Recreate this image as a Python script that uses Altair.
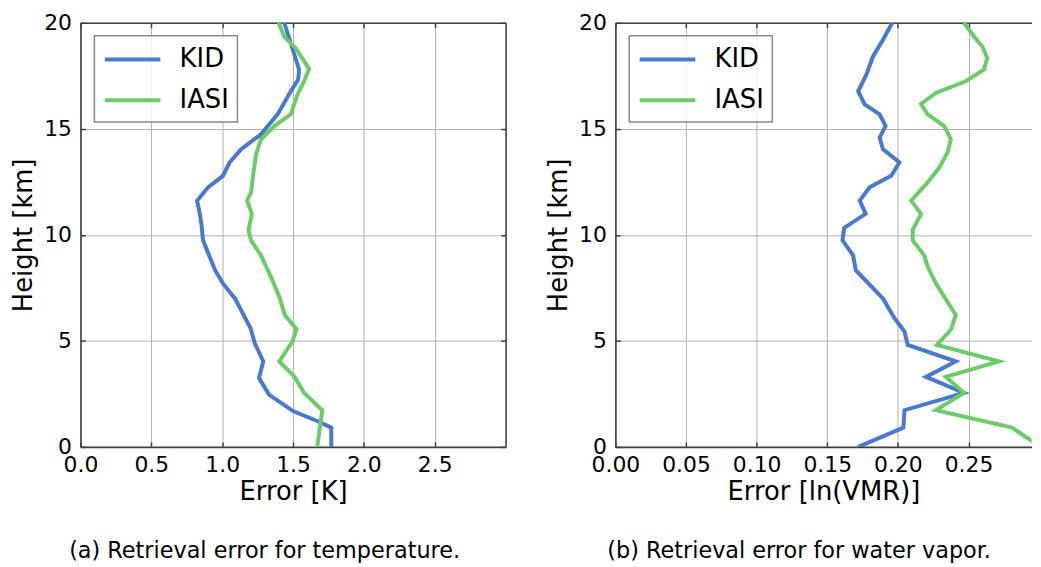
import altair as alt
import pandas as pd

# ---------------- data ----------------
# (a) temperature retrieval error [K]
temp_kid_h = [0, 0.91, 1.22, 1.69, 2.47, 3.25, 4.03, 4.89, 5.60, 7.00, 7.71, 8.33,
              9.74, 10.5, 11.0, 11.61, 12.24, 12.78, 13.41, 14.04, 14.74, 15.68,
              16.77, 17.32, 17.79, 20]
temp_kid_err = [1.77, 1.77, 1.67, 1.50, 1.33, 1.26, 1.29, 1.23, 1.20, 1.09, 1.005, 0.95,
                0.865, 0.854, 0.842, 0.823, 0.90, 1.005, 1.052, 1.134, 1.274, 1.391,
                1.484, 1.536, 1.543, 1.438]
temp_iasi_h = [0, 1.73, 2.55, 3.33, 4.03, 4.97, 5.55, 6.22, 7.08, 8.02, 9.03, 9.74,
               10.21, 10.99, 11.61, 12.0, 12.70, 13.80, 14.5, 15.13, 15.68, 16.61,
               17.24, 17.83, 18.8, 19.35, 20]
temp_iasi_err = [1.671, 1.706, 1.578, 1.508, 1.403, 1.496, 1.524, 1.442, 1.403, 1.344,
                 1.274, 1.204, 1.186, 1.209, 1.176, 1.204, 1.216, 1.239, 1.274, 1.368,
                 1.484, 1.531, 1.578, 1.613, 1.519, 1.438, 1.398]

# (b) water vapor retrieval error [ln(VMR)]
wv_kid_h = [0, 0.91, 1.73, 2.55, 3.30, 4.03, 4.81, 5.44, 6.07, 7.00, 8.33, 9.03, 9.74,
            10.33, 10.99, 11.61, 12.24, 12.78, 13.41, 14.04, 14.58, 15.13, 15.68, 16.15,
            16.77, 17.55, 18.41, 19.19, 20]
wv_kid_err = [0.172, 0.2039, 0.2047, 0.2468, 0.2199, 0.2410, 0.2070, 0.2047, 0.1976,
              0.1894, 0.1702, 0.1683, 0.1608, 0.1620, 0.1772, 0.1730, 0.1800, 0.1953,
              0.2011, 0.1894, 0.1871, 0.1913, 0.1871, 0.1765, 0.1719, 0.1777, 0.1824,
              0.1894, 0.1960]
wv_iasi_h = [0, 0.91, 1.73, 2.55, 3.30, 4.03, 4.81, 5.52, 6.22, 7.71, 8.49, 9.03, 9.74,
             10.24, 10.99, 11.61, 12.47, 13.17, 13.88, 14.50, 15.13, 15.68, 16.17, 16.69,
             17.24, 17.79, 18.33, 18.88, 19.35, 20]
wv_iasi_err = [0.301, 0.2809, 0.2269, 0.2468, 0.2340, 0.2715, 0.2276, 0.2375, 0.2410,
               0.2269, 0.2211, 0.2187, 0.2105, 0.2105, 0.2164, 0.2094, 0.2211, 0.2293,
               0.2352, 0.2375, 0.2328, 0.2211, 0.2164, 0.2269, 0.2480, 0.2609, 0.2633,
               0.2598, 0.2539, 0.2468]

series_names = ["KID", "IASI"]
series_colors = ["#4878CF", "#6ACC65"]

temp_xticks = [0.0, 0.5, 1.0, 1.5, 2.0, 2.5]
wv_xticks = [0.0, 0.05, 0.10, 0.15, 0.20, 0.25]
h_ticks = [0, 5, 10, 15, 20]

FONT = "DejaVu Sans"
FRAME = "#404040"
PLOT_H = 427


def make_df(kid_x, kid_h, iasi_x, iasi_h):
    rows = []
    for name, xs, hs in (("KID", kid_x, kid_h), ("IASI", iasi_x, iasi_h)):
        for i, (x, h) in enumerate(zip(xs, hs)):
            rows.append({"series": name, "err": x, "h": h, "idx": i})
    return pd.DataFrame(rows)


def inner_axis(orient, offset, values, domain):
    # frame line and ticks pointing into the plot area (matplotlib "in" ticks)
    return alt.Axis(orient=orient, offset=offset, values=values, labels=False,
                    ticks=True, tickSize=5, tickWidth=1.5, tickColor=FRAME,
                    grid=False, title=None, domain=domain)


def panel(df, xmax, xticks, xfmt, xtitle, caption, width, right_frame):
    xscale = alt.Scale(domain=[0, xmax], nice=False, zero=False)
    yscale = alt.Scale(domain=[0, 20], nice=False, zero=False)
    lines = alt.Chart(df).mark_line(strokeWidth=4, clip=True).encode(
        x=alt.X("err:Q", scale=xscale,
                axis=alt.Axis(values=xticks, format=xfmt, title=xtitle)),
        y=alt.Y("h:Q", scale=yscale,
                axis=alt.Axis(values=h_ticks, format="d", title="Height [km]")),
        color=alt.Color(
            "series:N",
            scale=alt.Scale(domain=series_names, range=series_colors),
            legend=alt.Legend(
                orient="none", legendX=14, legendY=13, title=None,
                symbolType="M-2,0H2", symbolSize=784, symbolStrokeWidth=4,
                symbolOffset=14.5, labelOffset=31.3,
                labelFont=FONT, labelFontSize=26, labelColor="black",
                labelExpr="datum.label + '\u00a0\u00a0\u00a0'",
                padding=8, rowPadding=12.1,
                strokeColor="#888888", fillColor="rgba(255,255,255,0.85)",
                cornerRadius=0, zindex=2,
            ),
        ),
        order=alt.Order("idx:Q"),
    )
    # top frame line + inward ticks at the top; right frame + inward ticks on the right
    frame_a = alt.Chart(df).mark_line(opacity=0).encode(
        x=alt.X("err:Q", scale=xscale,
                axis=inner_axis("bottom", -PLOT_H, xticks, True)),
        y=(alt.Y("h:Q", scale=yscale, axis=inner_axis("left", -width, h_ticks, True))
           if right_frame else alt.Y("h:Q", scale=yscale, axis=None)),
        order=alt.Order("idx:Q"),
    )
    # inward ticks at the bottom and on the left
    frame_b = alt.Chart(df).mark_line(opacity=0).encode(
        x=alt.X("err:Q", scale=xscale,
                axis=inner_axis("top", -PLOT_H, xticks, False)),
        y=alt.Y("h:Q", scale=yscale, axis=inner_axis("right", -width, h_ticks, False)),
        order=alt.Order("idx:Q"),
    )
    return alt.layer(lines, frame_a, frame_b).resolve_axis(
        x="independent", y="independent"
    ).properties(
        width=width, height=PLOT_H,
        title=alt.TitleParams(caption, orient="bottom", anchor="middle", frame="bounds",
                              font=FONT, fontSize=22.5, fontWeight="normal",
                              color="black", offset=36, dx=6),
    )


left = panel(make_df(temp_kid_err, temp_kid_h, temp_iasi_err, temp_iasi_h),
             3.0, temp_xticks, ".1f", "Error [K]",
             "(a) Retrieval error for temperature.", 428, True)
right = panel(make_df(wv_kid_err, wv_kid_h, wv_iasi_err, wv_iasi_h),
              419 / 1422, wv_xticks, ".2f", "Error [ln(VMR)]",
              "(b) Retrieval error for water vapor.", 419, False)

chart = alt.hconcat(left, right, spacing=39.5).resolve_scale(color="independent").properties(
    padding={"left": 11, "top": 10, "right": 0, "bottom": 0},
    background="white",
).configure_view(stroke=None).configure_axis(
    labelFont=FONT, labelFontSize=22, labelColor="black", labelFlush=False,
    titleFont=FONT, titleFontSize=26, titleFontWeight="normal", titleColor="black",
    ticks=False, labelPadding=8, titlePadding=3,
    grid=True, gridColor="#b0b0b0", gridWidth=1,
    domainColor=FRAME, domainWidth=1.6,
).configure_axisY(
    labelPadding=9, titlePadding=7,
).configure_legend(strokeWidth=1.5)

chart.save("out.html", embed_options={"renderer": "svg", "actions": False})
